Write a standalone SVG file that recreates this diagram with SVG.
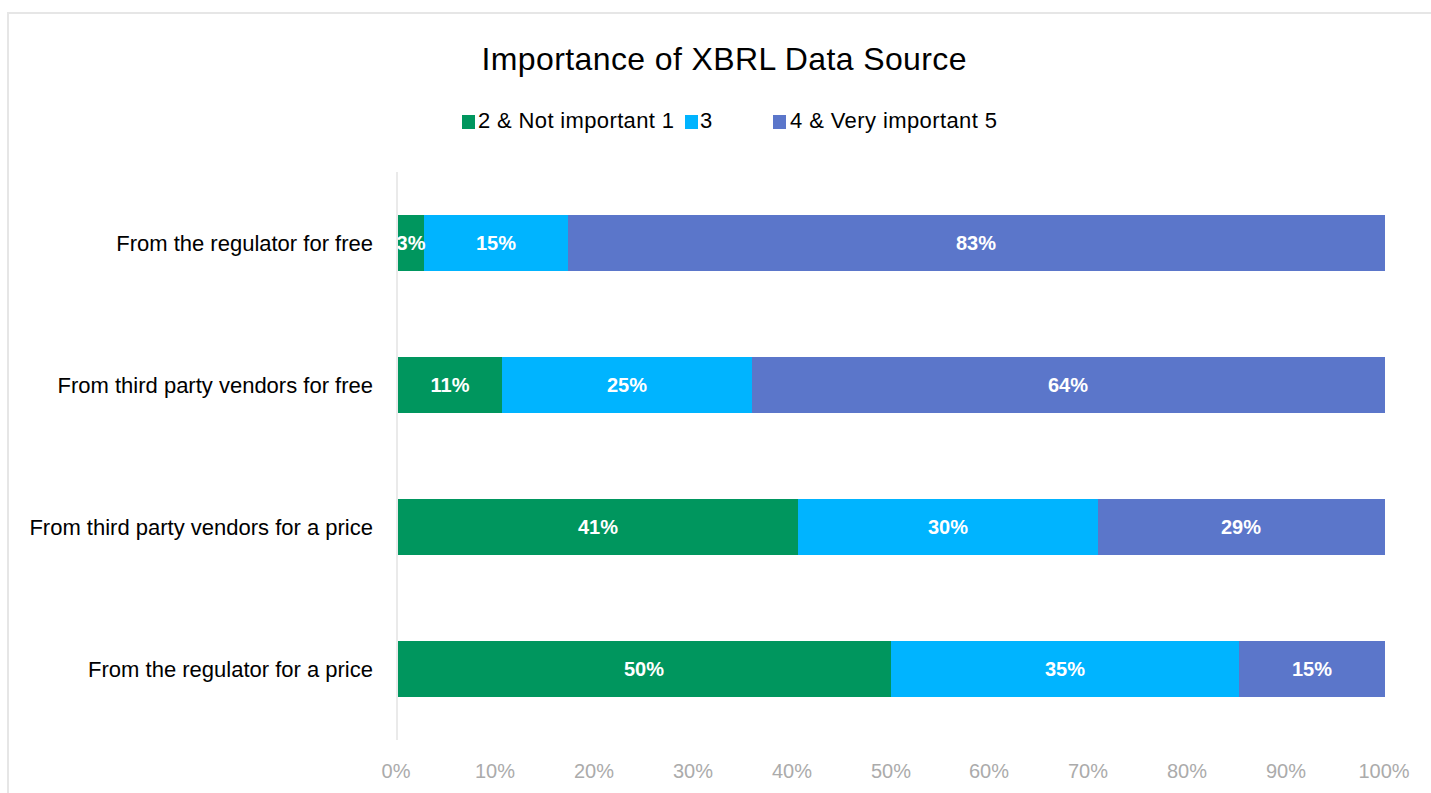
<svg xmlns="http://www.w3.org/2000/svg" width="1431" height="793" viewBox="0 0 1431 793">
<style>
.cat{font-family:"Liberation Sans",Arial,sans-serif;font-size:22px;fill:#000;text-anchor:end}
.val{font-family:"Liberation Sans",Arial,sans-serif;font-size:20px;font-weight:bold;fill:#fff;text-anchor:middle}
.ax{font-family:"Liberation Sans",Arial,sans-serif;font-size:20px;fill:#ababab;text-anchor:middle}
.leg{font-family:"Liberation Sans",Arial,sans-serif;font-size:22px;fill:#000}
.g{fill:#00965e}.c{fill:#00b4ff}.b{fill:#5b76ca}
</style>
<defs>
<clipPath id="plot"><rect x="398" y="150" width="1000" height="600"/></clipPath>
</defs>
<rect width="1431" height="793" fill="#fff"/>
<path d="M8 793 V13 H1431" fill="none" stroke="#e6e6e6" stroke-width="2"/>
<text x="724" y="70" font-family="Liberation Sans,Arial,sans-serif" font-size="32" text-anchor="middle" textLength="485" fill="#000">Importance of XBRL Data Source</text>
<g id="legend">
<rect x="462" y="115" width="13" height="14" class="g"/>
<text x="478" y="128" class="leg" textLength="196">2 &amp; Not important 1</text>
<rect x="685" y="115" width="13" height="14" class="c"/>
<text x="700" y="128" class="leg">3</text>
<rect x="773" y="115" width="13" height="14" class="b"/>
<text x="790" y="128" class="leg" textLength="207">4 &amp; Very important 5</text>
</g>
<g id="axis">
<line x1="397" y1="172" x2="397" y2="740" stroke="#e3e3e3" stroke-width="1.5"/>
<text x="396" y="778" class="ax">0%</text>
<text x="495" y="778" class="ax">10%</text>
<text x="594" y="778" class="ax">20%</text>
<text x="693" y="778" class="ax">30%</text>
<text x="792" y="778" class="ax">40%</text>
<text x="891" y="778" class="ax">50%</text>
<text x="989" y="778" class="ax">60%</text>
<text x="1088" y="778" class="ax">70%</text>
<text x="1187" y="778" class="ax">80%</text>
<text x="1286" y="778" class="ax">90%</text>
<text x="1384" y="778" class="ax">100%</text>
</g>
<g id="bar1">
<text x="373" y="251" class="cat">From the regulator for free</text>
<rect x="398" y="215" width="26" height="56" class="g"/>
<rect x="424" y="215" width="144" height="56" class="c"/>
<rect x="568" y="215" width="817" height="56" class="b"/>
<text x="411" y="250" class="val" clip-path="url(#plot)">3%</text>
<text x="496" y="250" class="val">15%</text>
<text x="976" y="250" class="val">83%</text>
</g>
<g id="bar2">
<text x="373" y="393" class="cat">From third party vendors for free</text>
<rect x="398" y="357" width="104" height="56" class="g"/>
<rect x="502" y="357" width="250" height="56" class="c"/>
<rect x="752" y="357" width="633" height="56" class="b"/>
<text x="450" y="392" class="val">11%</text>
<text x="627" y="392" class="val">25%</text>
<text x="1068" y="392" class="val">64%</text>
</g>
<g id="bar3">
<text x="373" y="535" class="cat">From third party vendors for a price</text>
<rect x="398" y="499" width="400" height="56" class="g"/>
<rect x="798" y="499" width="300" height="56" class="c"/>
<rect x="1098" y="499" width="287" height="56" class="b"/>
<text x="598" y="534" class="val">41%</text>
<text x="948" y="534" class="val">30%</text>
<text x="1241" y="534" class="val">29%</text>
</g>
<g id="bar4">
<text x="373" y="677" class="cat">From the regulator for a price</text>
<rect x="398" y="641" width="493" height="56" class="g"/>
<rect x="891" y="641" width="348" height="56" class="c"/>
<rect x="1239" y="641" width="146" height="56" class="b"/>
<text x="644" y="676" class="val">50%</text>
<text x="1065" y="676" class="val">35%</text>
<text x="1312" y="676" class="val">15%</text>
</g>
</svg>
